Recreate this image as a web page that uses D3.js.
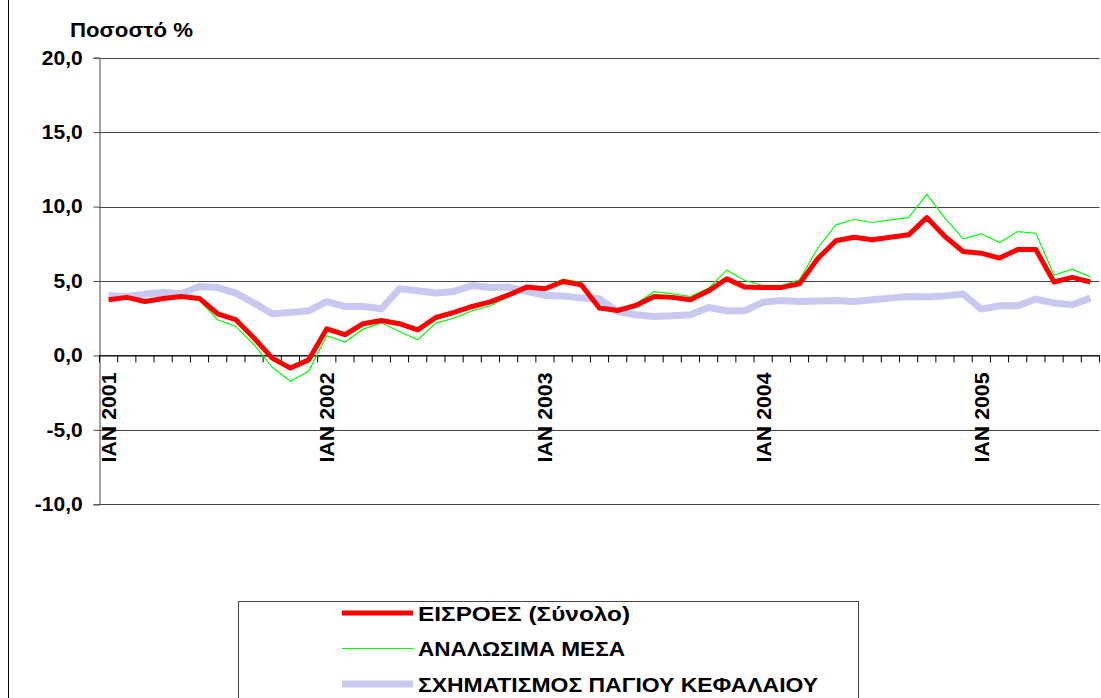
<!DOCTYPE html>
<html><head><meta charset="utf-8">
<script src="https://cdn.jsdelivr.net/npm/d3@7"></script>
<style>body{margin:0;background:#fff}svg{display:block;font-family:Arial,"Liberation Sans",sans-serif}</style>
</head><body><svg id="c" width="1101" height="698"></svg>
<script>
const months = ["IAN","ΦΕΒ","ΜΑΡ","ΑΠΡ","ΜΑΪ","ΙΟΥΝ","ΙΟΥΛ","ΑΥΓ","ΣΕΠ","ΟΚΤ","ΝΟΕ","ΔΕΚ"];
const years = [2001,2002,2003,2004,2005];
const categories = [];
years.forEach(y => months.forEach((m,i) => { if (y < 2005 || i < 7) categories.push(m + " " + y); }));
const eisroes = [3.74,3.9,3.62,3.83,3.96,3.83,2.8,2.4,1.17,-0.18,-0.85,-0.3,
  1.79,1.39,2.13,2.35,2.13,1.72,2.55,2.89,3.29,3.6,4.07,4.59,
  4.48,4.97,4.74,3.18,3.02,3.36,3.96,3.9,3.74,4.34,5.15,4.59,
  4.57,4.57,4.81,6.49,7.7,7.94,7.77,7.94,8.1,9.26,7.99,6.98,
  6.87,6.54,7.11,7.11,4.93,5.24,4.93];
const analosima = [3.69,3.85,3.56,3.74,3.9,3.69,2.4,1.95,0.72,-0.8,-1.74,-1.07,
  1.32,0.9,1.77,2.19,1.61,1.05,2.17,2.51,3.0,3.34,4.0,4.63,
  4.56,5.13,4.9,3.11,3.02,3.47,4.28,4.14,3.96,4.52,5.73,5.03,
  4.7,4.7,5.08,7.2,8.77,9.13,8.93,9.1,9.26,10.83,9.22,7.83,
  8.17,7.58,8.32,8.21,5.4,5.8,5.28];
const pagio = [4.03,3.96,4.12,4.23,4.14,4.63,4.56,4.19,3.52,2.8,2.89,3.0,
  3.62,3.29,3.29,3.13,4.48,4.34,4.19,4.3,4.7,4.56,4.59,4.3,
  4.03,4.0,3.85,3.8,2.95,2.73,2.62,2.66,2.73,3.22,3.0,3.0,
  3.58,3.69,3.62,3.65,3.69,3.62,3.74,3.85,3.96,3.92,4.0,4.12,
  3.11,3.34,3.34,3.78,3.52,3.4,3.85];
const yTicks = [-10,-5,0,5,10,15,20];
const seriesNames = ["ΕΙΣΡΟΕΣ (Σύνολο)","ΑΝΑΛΩΣΙΜΑ ΜΕΣΑ","ΣΧΗΜΑΤΙΣΜΟΣ ΠΑΓΙΟΥ ΚΕΦΑΛΑΙΟΥ"];
const yTitle = "Ποσοστό %";

const svg = d3.select("#c");
const L = 99.5, R = 1099.5, T = 57.7, B = 504.3;
const x = d3.scaleBand().domain(categories).range([L, R]);
const y = d3.scaleLinear().domain([-10, 20]).range([B, T]);
const fmt = d => d3.format(".1f")(d).replace(".", ",").replace("−", "-");

// outer frame left edge
svg.append("line").attr("x1",8.5).attr("x2",8.5).attr("y1",0).attr("y2",698).attr("stroke","#000");

// gridlines
svg.append("g").selectAll("line").data(yTicks).join("line")
  .attr("x1", L).attr("x2", R).attr("y1", d => Math.round(y(d))+0.5).attr("y2", d => Math.round(y(d))+0.5)
  .attr("stroke", "#444").attr("stroke-width", 1);

// y axis
const ya = svg.append("g").attr("transform", `translate(${L},0)`)
  .call(d3.axisLeft(y).tickValues(yTicks).tickFormat(fmt).tickSize(6).tickPadding(10));
ya.select(".domain").attr("stroke","#444");
ya.selectAll(".tick line").attr("stroke","#444");
ya.selectAll("text").attr("font-size", 20).attr("font-weight", "bold").attr("fill","#000")
  .attr("font-family","Arial, 'Liberation Sans', sans-serif").attr("transform", "scale(1.05,1)");

// x axis at zero
const xa = svg.append("g").attr("transform", `translate(0,${Math.round(y(0))+0.5})`)
  .call(d3.axisBottom(x).tickSize(0).tickFormat(""));
xa.select(".domain").attr("stroke","#000");
svg.append("g").selectAll("line").data(d3.range(categories.length + 1)).join("line")
  .attr("x1", i => L + i * x.step()).attr("x2", i => L + i * x.step())
  .attr("y1", y(0)).attr("y2", y(0) + 7).attr("stroke", "#000");

// x labels (January only)
svg.append("g").selectAll("text").data(categories.filter(c => c.startsWith("IAN"))).join("text")
  .attr("transform", d => `translate(${x(d) + x.bandwidth()/2 + 7.5},${y(0) + 17}) rotate(-90)`)
  .attr("text-anchor", "end").attr("font-size", 21).attr("font-weight", "bold")
  .attr("textLength", 90).attr("lengthAdjust", "spacingAndGlyphs").text(d => d);

// y title
svg.append("text").attr("x", 70).attr("y", 37).attr("font-size", 21).attr("font-weight", "bold")
  .attr("textLength", 123).attr("lengthAdjust", "spacingAndGlyphs").text(yTitle);

const line = d3.line().x((d, i) => x(categories[i]) + x.bandwidth()/2).y(d => y(d));
svg.append("path").datum(pagio).attr("d", line).attr("fill","none")
  .attr("stroke", "#c8c8f0").attr("stroke-width", 7).attr("stroke-linejoin","round");
svg.append("path").datum(analosima).attr("d", line).attr("fill","none")
  .attr("stroke", "#00ff00").attr("stroke-width", 1.2);
svg.append("path").datum(eisroes).attr("d", line).attr("fill","none")
  .attr("stroke", "#ff0000").attr("stroke-width", 5).attr("stroke-linejoin","round");

// legend
const lg = svg.append("g");
lg.append("rect").attr("x", 238.5).attr("y", 601.5).attr("width", 620).attr("height", 110)
  .attr("fill", "#fff").attr("stroke", "#444");
const styles = [{c:"#ff0000", w:5},{c:"#00ff00", w:1.2},{c:"#c8c8f0", w:7}];
const legW = [212, 207, 400];
seriesNames.forEach((n, i) => {
  const yy = 613 + i * 35.5;
  lg.append("line").attr("x1", 342).attr("x2", 413).attr("y1", yy).attr("y2", yy)
    .attr("stroke", styles[i].c).attr("stroke-width", styles[i].w);
  lg.append("text").attr("x", 418).attr("y", yy + 7.5).attr("font-size", 20).attr("font-weight","bold")
    .attr("textLength", legW[i]).attr("lengthAdjust", "spacingAndGlyphs").text(n);
});
</script></body></html>
